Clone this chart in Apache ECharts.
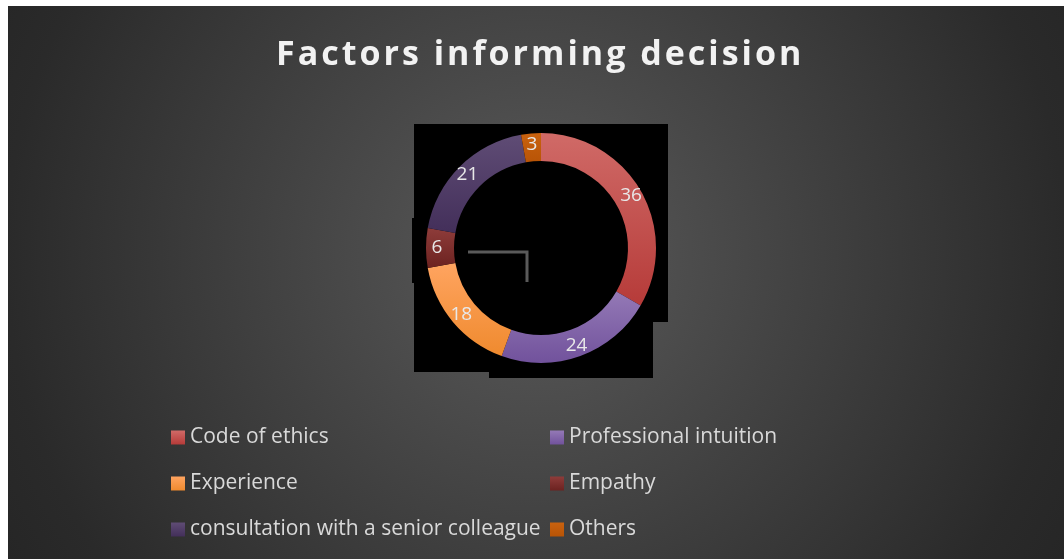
<!DOCTYPE html>
<html>
<head>
<meta charset="utf-8">
<script src="https://cdn.jsdelivr.net/npm/echarts@6/dist/echarts.min.js"></script>
<style>
  html, body { margin: 0; padding: 0; background: #ffffff; width: 1064px; height: 559px; overflow: hidden; }
  #chart { position: absolute; left: 8px; top: 6px; width: 1056px; height: 553px;
    background: radial-gradient(circle farthest-corner at 50% 45%, #5a5a5a 0%, #2a2a2a 87%, #262626 100%); }
</style>
</head>
<body>
<div id="chart"></div>
<script>
// ---- data ----
const titleText = 'Factors informing decision';
const categories = ['Code of ethics', 'Professional intuition', 'Experience', 'Empathy', 'consultation with a senior colleague', 'Others'];
const values = [36, 24, 18, 6, 21, 3];
const leftColumn = ['Code of ethics', 'Experience', 'consultation with a senior colleague'];
const rightColumn = ['Professional intuition', 'Empathy', 'Others'];
// colour pairs (top, bottom) per category
const colorTop = ['#d06a67', '#9479b6', '#ffa460', '#8e3c3a', '#5f4c75', '#c9620f'];
const colorBottom = ['#b63b39', '#71529c', '#ef8a2e', '#6c2220', '#432f5a', '#b85406'];

// letter-spaced title text (as in the original)
(function () {
  const proto = CanvasRenderingContext2D.prototype;
  const origFill = proto.fillText;
  proto.fillText = function (t, x, y, w) {
    if (t === titleText && 'letterSpacing' in this) {
      const prev = this.letterSpacing;
      this.letterSpacing = '3px';
      const r = w === undefined ? origFill.call(this, t, x, y) : origFill.call(this, t, x, y, w);
      this.letterSpacing = prev;
      return r;
    }
    return origFill.apply(this, arguments);
  };
})();

function grad(i) {
  return new echarts.graphic.LinearGradient(0, 0, 0, 1, [
    { offset: 0, color: colorTop[i] },
    { offset: 1, color: colorBottom[i] }
  ]);
}

const chart = echarts.init(document.getElementById('chart'), null, { renderer: 'canvas' });
const FONT = '"Open Sans", sans-serif';

const legendCommon = {
  orient: 'vertical',
  icon: 'rect',
  itemWidth: 14,
  itemHeight: 14,
  itemGap: 25,
  padding: 0,
  selectedMode: false,
  textStyle: { color: '#d9d9d9', fontSize: 21, lineHeight: 20, fontFamily: FONT }
};

chart.setOption({
  backgroundColor: 'transparent',
  animation: false,
  title: {
    text: titleText,
    left: 263,
    top: 27,
    textStyle: { color: '#f2f2f2', fontSize: 34, fontWeight: 'bold', fontFamily: FONT }
  },
  legend: [
    Object.assign({}, legendCommon, { data: leftColumn, left: 163, top: 421 }),
    Object.assign({}, legendCommon, { data: rightColumn, left: 542, top: 421 })
  ],
  graphic: [
    { type: 'rect', z: 0, shape: { x: 406, y: 118, width: 254, height: 198 }, style: { fill: '#000' } },
    { type: 'rect', z: 0, shape: { x: 406, y: 316, width: 239, height: 50 }, style: { fill: '#000' } },
    { type: 'rect', z: 0, shape: { x: 481, y: 366, width: 164, height: 6 }, style: { fill: '#000' } },
    { type: 'rect', z: 0, shape: { x: 404, y: 212, width: 2, height: 65 }, style: { fill: '#000' } },
    { type: 'polyline', z: 1, shape: { points: [[460, 246], [519, 246], [519, 276]] },
      style: { stroke: '#5a5a5a', lineWidth: 3, fill: null } }
  ],
  series: [{
    type: 'pie',
    z: 5,
    center: [533, 242],
    radius: [87, 115],
    startAngle: 90,
    clockwise: true,
    avoidLabelOverlap: false,
    emphasis: { scale: false },
    label: {
      show: true,
      position: 'inside',
      formatter: '{c}',
      color: '#e8e8e8',
      fontSize: 19,
      fontFamily: FONT
    },
    labelLine: { show: false },
    data: categories.map((name, i) => ({
      name: name,
      value: values[i],
      itemStyle: { color: grad(i) }
    }))
  }]
});
</script>
</body>
</html>
